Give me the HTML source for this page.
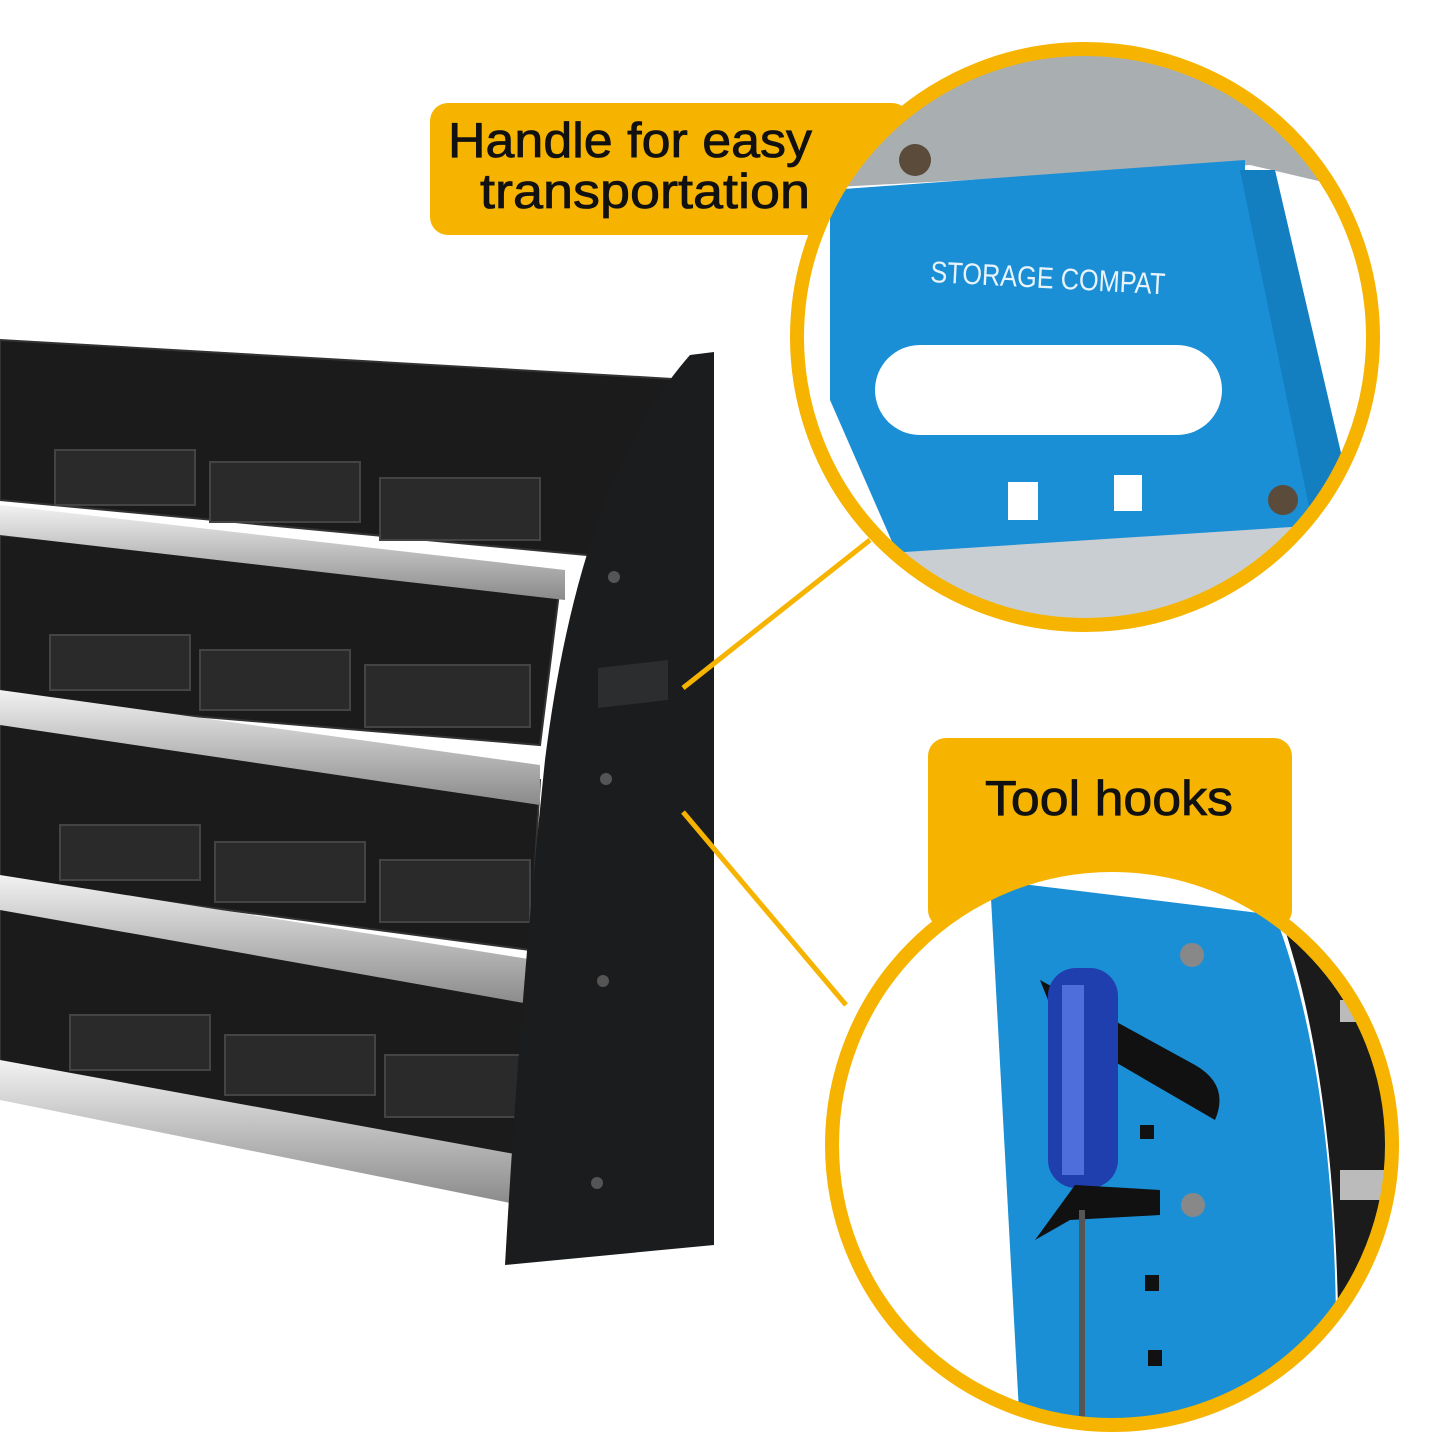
<!DOCTYPE html>
<html><head><meta charset="utf-8"><style>
html,body{margin:0;padding:0;background:#fff;}
svg{display:block}
text{font-family:"Liberation Sans",sans-serif;}
</style></head><body>
<svg width="1445" height="1445" viewBox="0 0 1445 1445" xmlns="http://www.w3.org/2000/svg">
<defs>
<clipPath id="c1"><circle cx="1085" cy="337" r="288"/></clipPath>
<clipPath id="c2"><circle cx="1112" cy="1145" r="280"/></clipPath>
<linearGradient id="al" x1="0" y1="0" x2="0" y2="1"><stop offset="0" stop-color="#f2f2f2"/><stop offset="0.5" stop-color="#bdbdbd"/><stop offset="1" stop-color="#8a8a8a"/></linearGradient>
</defs>
<rect width="1445" height="1445" fill="#fff"/>

<g fill="#1b1b1b" stroke="#333" stroke-width="2">
<polygon points="0,340 690,380 640,560 0,500"/>
<polygon points="0,535 560,585 540,745 0,700"/>
<polygon points="0,715 540,780 530,950 0,880"/>
<polygon points="0,895 530,980 520,1160 0,1070"/>
</g>
<g fill="#2a2a2a" stroke="#444" stroke-width="2">
<rect x="55" y="450" width="140" height="55"/><rect x="210" y="462" width="150" height="60"/><rect x="380" y="478" width="160" height="62"/>
<rect x="50" y="635" width="140" height="55"/><rect x="200" y="650" width="150" height="60"/><rect x="365" y="665" width="165" height="62"/>
<rect x="60" y="825" width="140" height="55"/><rect x="215" y="842" width="150" height="60"/><rect x="380" y="860" width="150" height="62"/>
<rect x="70" y="1015" width="140" height="55"/><rect x="225" y="1035" width="150" height="60"/><rect x="385" y="1055" width="140" height="62"/>
</g>
<g fill="url(#al)">
<polygon points="0,505 565,570 565,600 0,535"/>
<polygon points="0,690 540,765 540,805 0,725"/>
<polygon points="0,875 535,960 535,1005 0,910"/>
<polygon points="0,1060 520,1155 520,1205 0,1100"/>
</g>
<path d="M690,355 L714,352 L714,1245 L505,1265 Q520,1000 545,760 Q580,480 690,355 Z" fill="#1a1c1e"/>
<path d="M598,668 L668,660 L668,700 L598,708 Z" fill="#2b2d2f"/>
<g fill="#555"><circle cx="614" cy="577" r="6"/><circle cx="606" cy="779" r="6"/><circle cx="603" cy="981" r="6"/><circle cx="597" cy="1183" r="6"/></g>

<g stroke="#f6b400" stroke-width="5">
<line x1="683" y1="688" x2="870" y2="540"/>
<line x1="683" y1="812" x2="846" y2="1005"/>
</g>

<rect x="430" y="103" width="480" height="132" rx="18" fill="#f6b400"/>
<text x="448" y="157" font-size="49" fill="#111" stroke="#111" stroke-width="0.8" textLength="364" lengthAdjust="spacingAndGlyphs">Handle for easy</text>
<text x="480" y="208" font-size="49" fill="#111" stroke="#111" stroke-width="0.8" textLength="330" lengthAdjust="spacingAndGlyphs">transportation</text>

<g clip-path="url(#c1)">
<rect x="780" y="40" width="620" height="600" fill="#fff"/>
<polygon points="780,40 1400,40 1400,200 1250,165 780,190" fill="#a9aeb0"/>
<polygon points="830,190 1245,160 1245,180 1335,470 1345,560 900,560 830,400" fill="#1a8fd5"/>
<polygon points="1240,170 1275,170 1345,470 1345,560 1320,560" fill="#137ec0"/>
<polygon points="780,560 1400,520 1400,640 780,640" fill="#c9ced2"/>
<rect x="875" y="345" width="347" height="90" rx="45" fill="#fff"/>
<rect x="1008" y="482" width="30" height="38" fill="#fff"/>
<rect x="1114" y="475" width="28" height="36" fill="#fff"/>
<text x="930" y="282" font-size="30" fill="#e8f3fb" transform="rotate(3 930 282)" textLength="235" lengthAdjust="spacingAndGlyphs">STORAGE COMPAT</text>
<circle cx="915" cy="160" r="16" fill="#5a4b3a"/><circle cx="1283" cy="500" r="15" fill="#5a4b3a"/>
</g>
<circle cx="1085" cy="337" r="288" fill="none" stroke="#f6b400" stroke-width="14"/>

<rect x="928" y="738" width="364" height="190" rx="18" fill="#f6b400"/>
<text x="985" y="815" font-size="49" fill="#111" stroke="#111" stroke-width="0.8" textLength="248" lengthAdjust="spacingAndGlyphs">Tool hooks</text>

<g clip-path="url(#c2)">
<rect x="820" y="860" width="600" height="580" fill="#fff"/>
<path d="M990,880 L1275,915 Q1345,1100 1335,1430 L1020,1430 Z" fill="#1a8fd5"/>
<path d="M1280,915 L1420,915 L1420,1430 L1338,1430 Q1345,1100 1280,915 Z" fill="#1b1b1b"/>
<rect x="1340" y="1000" width="80" height="22" fill="#bbb"/><rect x="1340" y="1170" width="80" height="30" fill="#bbb"/>
<path d="M1040,980 L1195,1065 Q1230,1085 1215,1120 L1060,1030 Z" fill="#111"/>
<rect x="1048" y="968" width="70" height="220" rx="28" fill="#1f3fae"/>
<rect x="1062" y="985" width="22" height="190" fill="#4c6fdc"/>
<path d="M1035,1240 L1075,1185 L1160,1190 L1160,1215 L1070,1220 Z" fill="#111"/>
<rect x="1079" y="1210" width="6" height="230" fill="#555"/>
<g fill="#111"><rect x="1140" y="1125" width="14" height="14"/><rect x="1145" y="1275" width="14" height="16"/><rect x="1148" y="1350" width="14" height="16"/></g>
<circle cx="1192" cy="955" r="12" fill="#888"/><circle cx="1193" cy="1205" r="12" fill="#888"/>
</g>
<circle cx="1112" cy="1145" r="280" fill="none" stroke="#f6b400" stroke-width="14"/>
</svg>
</body></html>
